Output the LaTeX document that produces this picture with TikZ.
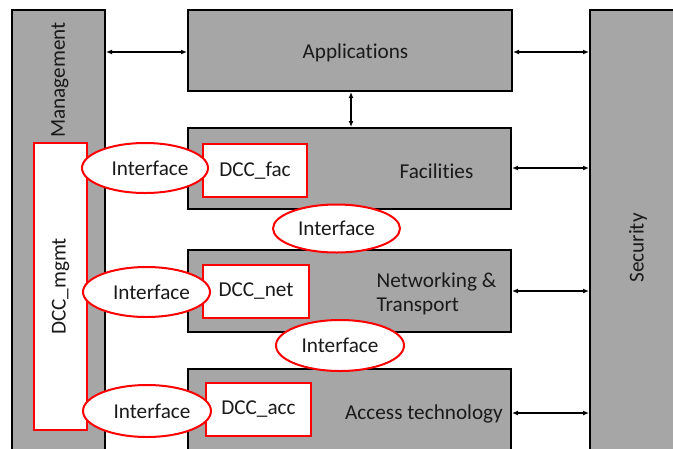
\documentclass[tikz,border=0pt]{standalone}
\usepackage{fontspec}
\setmainfont[Ligatures=NoCommon]{Carlito}
\usetikzlibrary{arrows.meta,shapes.geometric}
\definecolor{layergray}{HTML}{A6A6A6}
\definecolor{ifred}{HTML}{FF0000}
\definecolor{txtc}{HTML}{1A1A1A}
\begin{document}
\begin{tikzpicture}[x=1pt,y=-1pt,
  layer/.style={draw=black, line width=2pt, fill=layergray, inner sep=0pt},
  dccbox/.style={draw=ifred, line width=2pt, fill=white, inner sep=0pt},
  iface/.style={ellipse, draw=ifred, line width=2pt, fill=white, inner sep=0pt,
    font=\fontsize{21.2}{25}\selectfont, text=txtc},
  lbl/.style={font=\fontsize{21.2}{24.5}\selectfont, text=txtc, inner sep=0pt},
  link/.style={{Latex[length=6pt,width=5pt]}-{Latex[length=6pt,width=5pt]}, line width=1.8pt}]
\useasboundingbox (0,0) rectangle (673,448);
\clip (0,0) rectangle (673,448);
% layer boxes
\node[layer, minimum width=93pt, minimum height=460pt] (mgmt) at (58.5,240) {};
\node[layer, minimum width=110pt, minimum height=460pt] (sec) at (645,240) {};
\node[layer, minimum width=324pt, minimum height=81pt] (app) at (350,50.5) {};
\node[layer, minimum width=323pt, minimum height=81pt] (fac) at (349.5,168.5) {};
\node[layer, minimum width=323pt, minimum height=82pt] (net) at (349.5,291) {};
\node[layer, minimum width=323pt, minimum height=91pt] (acc) at (349.5,414.5) {};
% layer labels
\node[lbl, rotate=90] (mgmttxt) at (60,80) {Management};
\node[lbl, rotate=90] (sectxt) at (638,248) {Security};
\node[lbl] (apptxt) at (355.5,53) {Applications};
\node[lbl] (factxt) at (436.5,171.5) {Facilities};
\node[lbl, align=left] (nettxt) at (436.5,294) {Networking \&\\Transport};
\node[lbl] (acctxt) at (424,414) {Access technology};
% DCC boxes
\node[dccbox, minimum width=53pt, minimum height=287pt] (dccmgmt) at (60.5,286.5) {};
\node[lbl, rotate=90] (dccmgmttxt) at (dccmgmt) {DCC\_mgmt};
\node[dccbox, minimum width=104pt, minimum height=53pt, lbl] (dccfac) at (255,170.5) {DCC\_fac};
\node[dccbox, minimum width=106pt, minimum height=53pt, lbl] (dccnet) at (256,291.5) {DCC\_net};
\node[dccbox, minimum width=105pt, minimum height=53pt, lbl] (dccacc) at (258.5,409.5) {DCC\_acc};
% interfaces
\node[iface, minimum width=126pt, minimum height=50pt] (if1) at (145,168) {\hspace{10pt}Interface};
\node[iface, minimum width=127pt, minimum height=50pt] (if2) at (146.5,292) {\hspace{10pt}Interface};
\node[iface, minimum width=128pt, minimum height=52pt] (if3) at (147,411) {\hspace{10pt}Interface};
\node[iface, minimum width=127pt, minimum height=48pt] (if4) at (336.5,228.5) {Interface};
\node[iface, minimum width=128pt, minimum height=51pt] (if5) at (340,345.5) {Interface};
% connectors
\draw[link] (mgmt.east |- 0,52) -- (app.west |- 0,52);
\draw[link] (app.east |- 0,52) -- (sec.west |- 0,52);
\draw[link] (351,0 |- app.south) -- (351,0 |- fac.north);
\draw[link] (fac.east |- 0,168) -- (sec.west |- 0,168);
\draw[link] (net.east) -- (net.east -| sec.west);
\draw[link] (fac.east |- 0,413) -- (sec.west |- 0,413);
\end{tikzpicture}
\end{document}
